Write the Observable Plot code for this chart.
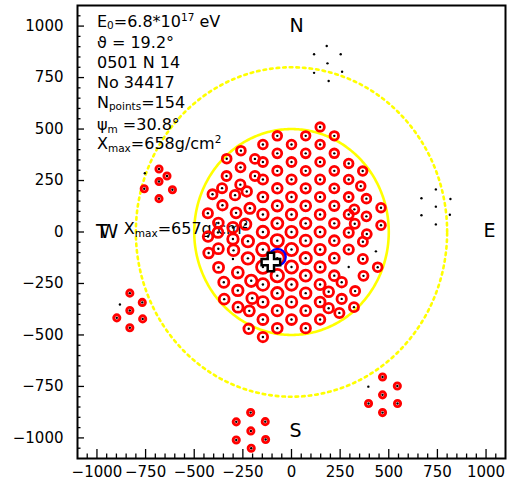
<!DOCTYPE html>
<html>
<head>
<meta charset="utf-8">
<script src="https://cdn.jsdelivr.net/npm/d3@7"></script>
<script src="https://cdn.jsdelivr.net/npm/@observablehq/plot@0.6"></script>
<style>
  html, body { margin: 0; padding: 0; background: #fff; }
</style>
</head>
<body>
<div id="chart"></div>
<script>
// ---- data (metres, shower plane) ----
const mainHits = [
  [-147,425],[-147,340],[-147,255],[-147,170],[-147,85],[-147,0],[-147,-85],[-147,-170],[-147,-255],[-147,-340],[-147,-425],[-147,-510],
  [-73,467],[-73,382],[-73,297],[-73,212],[-73,127],[-73,42],[-73,-42],[-73,-127],[-73,-212],[-73,-297],[-73,-382],[-73,-467],
  [0,425],[0,340],[0,255],[0,170],[0,85],[0,0],[0,-85],[0,-170],[0,-255],[0,-340],[0,-425],
  [73,467],[73,382],[73,297],[73,212],[73,127],[73,42],[73,-42],[73,-127],[73,-212],[73,-297],[73,-382],[73,-467],
  [147,510],[147,425],[147,340],[147,255],[147,170],[147,85],[147,0],[147,-85],[147,-170],[147,-255],[147,-340],[147,-425],
  [220,467],[220,382],[220,297],[220,212],[220,127],[220,42],[220,-42],[220,-127],[220,-212],
  [191,-290],[258,-244],[258,-325],[191,-370],[246,-393],
  [294,333],[294,255],[294,170],[294,85],[294,-3],[294,-85],
  [366,296],[356,223],[385,162],[323,110],[385,76],[325,40],[387,-10],[367,-47],[367,-131],[370,-213],
  [460,118],[460,33],[443,-171],[327,-287],[321,-365],
  [-260,395],[-333,356],[-188,355],[-262,314],[-334,272],[-188,272],[-357,213],[-263,230],[-406,183],
  [-290,179],[-230,197],[-355,130],[-214,115],[-430,91],[-285,93],[-376,44],[-301,22],[-236,38],
  [-429,-22],[-378,-2],[-301,-34],[-224,-45],[-426,-102],[-376,-81],[-298,-89],[-224,-128],[-375,-172],
  [-276,-197],[-207,-237],[-348,-244],[-276,-284],[-346,-326],[-202,-322],[-275,-365],[-217,-383],[-220,-470]
];
const clusterHits = [
  [-681,306],[-640,272],[-681,245],[-757,210],[-612,205],[-681,162],
  [-831,-297],[-767,-342],[-831,-381],[-898,-417],[-765,-422],[-831,-465],
  [-210,-877],[-284,-922],[-135,-921],[-209,-966],[-284,-1010],[-133,-1008],[-207,-1050],
  [468,-704],[544,-748],[468,-791],[396,-833],[545,-833],[468,-877]
];
const emptyStations = [
  [181,903],[116,863],[253,863],[185,819],[116,773],[260,778],[191,733],
  [742,207],[668,164],[817,160],[742,123],[668,81],[814,84],[742,37],
  [-754,285],[-882,-352],[395,-751],
  [-301,-131],[294,-170],[434,-94]
];
const ringRadii = [500, 800];
const showerCore = [[-72, -122]];
const axisCore = [[-106, -146]];
const majorTicks = [-1000, -750, -500, -250, 0, 250, 500, 750, 1000];
const minorTicks = d3.range(-1050, 1051, 50).filter(v => v % 250 !== 0);
const infoLines = ["E_{0}=6.8*10^{17} eV", "ϑ = 19.2°", "0501 N 14", "No 34417", "N_{points}=154", "ψ_{m} =30.8°", "X_{max}=658g/cm^{2}"];
const secondNote = ["X_{max}=657g/cm^{2}"];
const compassLabels = ["N", "E", "S", "TW"];

// ---- layout of annotations (data coordinates) ----
const infoPos = {x: -1000, y: [996, 895, 798, 701, 604, 495, 402]};
const notePos = {x: -862, y: -12};
const compassPos = [[26, 970], [1018, -22], [21, -998], [-968, -29]];

// frame geometry helpers for fixed pixel tick lengths
const W = 508, H = 484, mL = 77, mR = 3, mT = 5, mB = 26;
const pxX = p => p * 2200 / (W - mL - mR);
const pxY = p => p * 2200 / (H - mT - mB);

const ring = R => d3.range(0, 361, 1).map(a => [R * Math.cos(a * Math.PI / 180), R * Math.sin(a * Math.PI / 180)]);
const hitR = d => 4.0 + 3.0 * Math.exp(-Math.hypot(d[0] + 90, d[1] + 135) / 270);
const fmt = d => d < 0 ? "\u2212" + (-d) : String(d);
const openCross = {
  draw(ctx, size) {
    const r = Math.sqrt(size / Math.PI), w = r * 0.34;
    ctx.moveTo(-w, -r); ctx.lineTo(w, -r); ctx.lineTo(w, -w); ctx.lineTo(r, -w);
    ctx.lineTo(r, w); ctx.lineTo(w, w); ctx.lineTo(w, r); ctx.lineTo(-w, r);
    ctx.lineTo(-w, w); ctx.lineTo(-r, w); ctx.lineTo(-r, -w); ctx.lineTo(-w, -w);
    ctx.closePath();
  }
};

const plot = Plot.plot({
  width: W, height: H,
  marginLeft: mL, marginRight: mR, marginTop: mT, marginBottom: mB,
  x: {domain: [-1100, 1100]},
  y: {domain: [-1100, 1100]},
  r: {type: "linear", domain: [0, 10], range: [0, 10]},
  style: {fontFamily: "'DejaVu Sans', sans-serif", fontSize: "15px", background: "white", color: "black"},
  marks: [
    Plot.line(ring(ringRadii[1]), {x: d => d[0], y: d => d[1], stroke: "#ffff00", strokeWidth: 2.6, strokeDasharray: "2.6 4"}),
    Plot.line(ring(ringRadii[0]), {x: d => d[0], y: d => d[1], stroke: "#ffff00", strokeWidth: 2.6}),
    Plot.text(infoLines, {x: infoPos.x, y: (d, i) => infoPos.y[i], text: d => d, textAnchor: "start", lineAnchor: "bottom", fontSize: 16, fill: "black"}),
    Plot.text(secondNote, {x: notePos.x, y: notePos.y, text: d => d, textAnchor: "start", lineAnchor: "bottom", fontSize: 16, fill: "black"}),
    Plot.text(compassLabels, {x: (d, i) => compassPos[i][0], y: (d, i) => compassPos[i][1], text: d => d, textAnchor: "middle", lineAnchor: "bottom", fontSize: 19, fill: "black"}),
    Plot.dot(mainHits, {x: d => d[0], y: d => d[1], r: hitR, stroke: "#ff0000", strokeWidth: 2.8, fill: "none"}),
    Plot.dot(clusterHits, {x: d => d[0], y: d => d[1], r: 3.1, stroke: "#ff0000", strokeWidth: 2.9, fill: "none"}),
    Plot.dot([...mainHits, ...clusterHits, ...emptyStations], {x: d => d[0], y: d => d[1], r: 1.2, fill: "black"}),
    Plot.dot(showerCore, {x: d => d[0], y: d => d[1], r: 8.3, stroke: "#0000ff", strokeWidth: 2.2, fill: "none"}),
    Plot.dot(axisCore, {x: d => d[0], y: d => d[1], r: 9.3, symbol: openCross, stroke: "black", strokeWidth: 2.5, fill: "white"}),
    // inward ROOT-style ticks
    Plot.ruleX(majorTicks, {x: d => d, y1: -1100, y2: -1100 + pxY(9), stroke: "black", strokeWidth: 1.3}),
    Plot.ruleX(minorTicks, {x: d => d, y1: -1100, y2: -1100 + pxY(4.5), stroke: "black", strokeWidth: 1.3}),
    Plot.ruleY(majorTicks, {y: d => d, x1: -1100, x2: -1100 + pxX(7), stroke: "black", strokeWidth: 1.3}),
    Plot.ruleY(minorTicks, {y: d => d, x1: -1100, x2: -1100 + pxX(3.5), stroke: "black", strokeWidth: 1.3}),
    Plot.axisX({ticks: majorTicks, tickSize: 0, tickPadding: 8, tickFormat: fmt, label: null}),
    Plot.axisY({ticks: majorTicks, tickSize: 0, tickPadding: 14, tickFormat: fmt, label: null}),
    Plot.frame({stroke: "black", strokeWidth: 2})
  ]
});

// TLatex-like markup: _{sub}, ^{sup}
function richify(el) {
  const str = el.textContent;
  const tokens = str.match(/_\{[^}]*\}|\^\{[^}]*\}|[^_^]+/g) || [];
  el.textContent = "";
  let shift = 0;
  for (const t of tokens) {
    const ts = document.createElementNS("http://www.w3.org/2000/svg", "tspan");
    let target = 0, content = t, fs = null;
    if (t.startsWith("_{")) { target = 2.5; content = t.slice(2, -1); fs = 10.5; }
    else if (t.startsWith("^{")) { target = -6; content = t.slice(2, -1); fs = 10.5; }
    if (target - shift !== 0) ts.setAttribute("dy", target - shift);
    shift = target;
    if (fs) ts.setAttribute("font-size", fs);
    ts.textContent = content;
    el.appendChild(ts);
  }
}
d3.select(plot).selectAll("text").each(function () {
  if (/[_^]\{/.test(this.textContent)) richify(this);
  else if (this.textContent === "TW") this.setAttribute("letter-spacing", "-8px");
});

document.getElementById("chart").appendChild(plot);
</script>
</body>
</html>
